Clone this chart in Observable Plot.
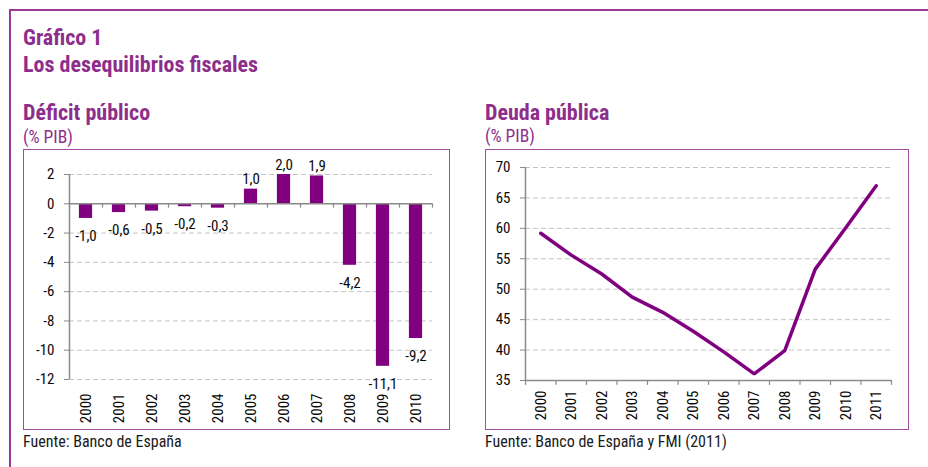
<!DOCTYPE html>
<html>
<head>
<meta charset="utf-8">
<script src="https://cdn.jsdelivr.net/npm/d3@7"></script>
<script src="https://cdn.jsdelivr.net/npm/@observablehq/plot@0.6"></script>
<style>
  html, body { margin: 0; padding: 0; background: #fff; }
  #page { position: relative; width: 928px; height: 467px; overflow: hidden;
    font-family: "Roboto Condensed", "Open Sans", "Noto Sans", sans-serif; font-stretch: 75%; }
  .frame-top { position: absolute; left: 10px; top: 9px; width: 918px; height: 0; border-top: 2px solid #9c3b97; }
  .frame-left { position: absolute; left: 9px; top: 9px; width: 0; height: 458px; border-left: 2px solid #9c3b97; }
  .t { position: absolute; white-space: nowrap; color: #8e2e8c; line-height: 1; }
  .h1 { font-size: 22px; font-weight: bold; }
  .sub { font-size: 17.5px; }
  .src { position: absolute; white-space: nowrap; color: #1a1a1a; font-size: 16px; line-height: 1; }
  .box { position: absolute; border: 1px solid #a54ba3; box-sizing: border-box; }
  .box svg { display: block; font-stretch: 75%; }
</style>
</head>
<body>
<div id="page">
  <div class="frame-top"></div>
  <div class="frame-left"></div>
  <div class="t h1" style="left:23px; top:27px;">Gráfico 1</div>
  <div class="t h1" style="left:23px; top:54px;">Los desequilibrios fiscales</div>
  <div class="t h1" style="left:23px; top:102px;">Déficit público</div>
  <div class="t sub" style="left:23px; top:129px;">(% PIB)</div>
  <div class="t h1" style="left:485px; top:102px;">Deuda pública</div>
  <div class="t sub" style="left:485px; top:128px;">(% PIB)</div>
  <div class="box" id="left" style="left:23px; top:149px; width:427px; height:281px;"></div>
  <div class="box" id="right" style="left:485px; top:149px; width:424px; height:281px;"></div>
  <div class="src" style="left:23px; top:434px;">Fuente: Banco de España</div>
  <div class="src" style="left:485px; top:434px;">Fuente: Banco de España y FMI (2011)</div>
</div>
<script>
// ---- Data ----
const deficitYears = [2000, 2001, 2002, 2003, 2004, 2005, 2006, 2007, 2008, 2009, 2010];
const deficitValues = [-1.0, -0.6, -0.5, -0.2, -0.3, 1.0, 2.0, 1.9, -4.2, -11.1, -9.2];
const deficitTicks = [2, 0, -2, -4, -6, -8, -10, -12];

const debtYears = [2000, 2001, 2002, 2003, 2004, 2005, 2006, 2007, 2008, 2009, 2010, 2011];
const debtValues = [59.2, 55.6, 52.5, 48.7, 46.2, 43.1, 39.7, 36.1, 39.9, 53.3, 60.1, 67.0];
const debtTicks = [35, 40, 45, 50, 55, 60, 65, 70];

// ---- Helpers ----
const FONT = '"Roboto Condensed", "Open Sans", "Noto Sans", sans-serif';
const PURPLE = "#800080";
const AXIS = "#8a8a8a";
const GRID = "#c4c4c4";
const TXT = "#0a0a0a";
const FS = 15;
const fmt = v => v.toFixed(1).replace(".", ",");

const deficit = deficitYears.map((year, i) => ({year, value: deficitValues[i]}));
const debt = debtYears.map((year, i) => ({year, value: debtValues[i]}));
const boundaries = ys => [...ys.map(y => y - 0.5), ys[ys.length - 1] + 0.5];

// ---- Left chart: Déficit público ----
const left = Plot.plot({
  width: 425, height: 279,
  marginLeft: 45, marginRight: 17, marginTop: 24, marginBottom: 50,
  style: {fontFamily: FONT, fontSize: FS + "px", color: TXT, overflow: "visible", background: "transparent"},
  x: {type: "linear", domain: [deficitYears[0] - 0.5, deficitYears[deficitYears.length - 1] + 0.5]},
  y: {domain: [-12, 2]},
  marks: [
    Plot.ruleY(deficitTicks.filter(d => d !== 0), {stroke: GRID, strokeDasharray: "5,3"}),
    Plot.rectY(deficit, {x1: d => d.year - 0.2, x2: d => d.year + 0.2, y: "value", fill: PURPLE}),
    Plot.ruleY([0], {stroke: AXIS, strokeWidth: 1.5}),
    Plot.ruleX(boundaries(deficitYears), {y1: 0, y2: -0.3, stroke: AXIS, strokeWidth: 1.2}),
    Plot.ruleX([deficitYears[0] - 0.5], {y1: -12, y2: 2, stroke: AXIS, strokeWidth: 1.5}),
    Plot.axisY(deficitTicks, {tickSize: 5, tickPadding: 10, stroke: AXIS, fill: TXT, fontSize: FS, label: null, tickFormat: d => String(d)}),
    Plot.axisX(deficitYears, {tickSize: 0, tickPadding: 14, tickRotate: -90, fill: TXT, fontSize: FS, label: null, tickFormat: d => String(d)}),
    Plot.text(deficit.filter(d => d.value >= 0), {x: "year", y: "value", text: d => fmt(d.value), lineAnchor: "bottom", dy: -5, fill: TXT, fontSize: FS}),
    Plot.text(deficit.filter(d => d.value < 0), {x: "year", y: "value", text: d => fmt(d.value), lineAnchor: "top", dy: 12, fill: TXT, fontSize: FS})
  ]
});
document.getElementById("left").appendChild(left);

// ---- Right chart: Deuda pública ----
const right = Plot.plot({
  width: 422, height: 279,
  marginLeft: 39, marginRight: 17, marginTop: 17, marginBottom: 49,
  style: {fontFamily: FONT, fontSize: FS + "px", color: TXT, overflow: "visible", background: "transparent"},
  x: {type: "linear", domain: [debtYears[0] - 0.5, debtYears[debtYears.length - 1] + 0.5]},
  y: {domain: [35, 70]},
  marks: [
    Plot.ruleY(debtTicks.filter(d => d !== 35), {stroke: GRID, strokeDasharray: "5,3"}),
    Plot.ruleY([35], {stroke: AXIS, strokeWidth: 1.5}),
    Plot.ruleX(boundaries(debtYears), {y1: 35, y2: 34.2, stroke: AXIS, strokeWidth: 1.2}),
    Plot.ruleX([debtYears[0] - 0.5], {y1: 35, y2: 70, stroke: AXIS, strokeWidth: 1.5}),
    Plot.axisY(debtTicks, {tickSize: 5, tickPadding: 10, stroke: AXIS, fill: TXT, fontSize: FS, label: null, tickFormat: d => String(d)}),
    Plot.axisX(debtYears, {tickSize: 0, tickPadding: 10, tickRotate: -90, fill: TXT, fontSize: FS, label: null, tickFormat: d => String(d)}),
    Plot.lineY(debt, {x: "year", y: "value", stroke: PURPLE, strokeWidth: 3.5, strokeLinejoin: "miter"})
  ]
});
document.getElementById("right").appendChild(right);
</script>
</body>
</html>
